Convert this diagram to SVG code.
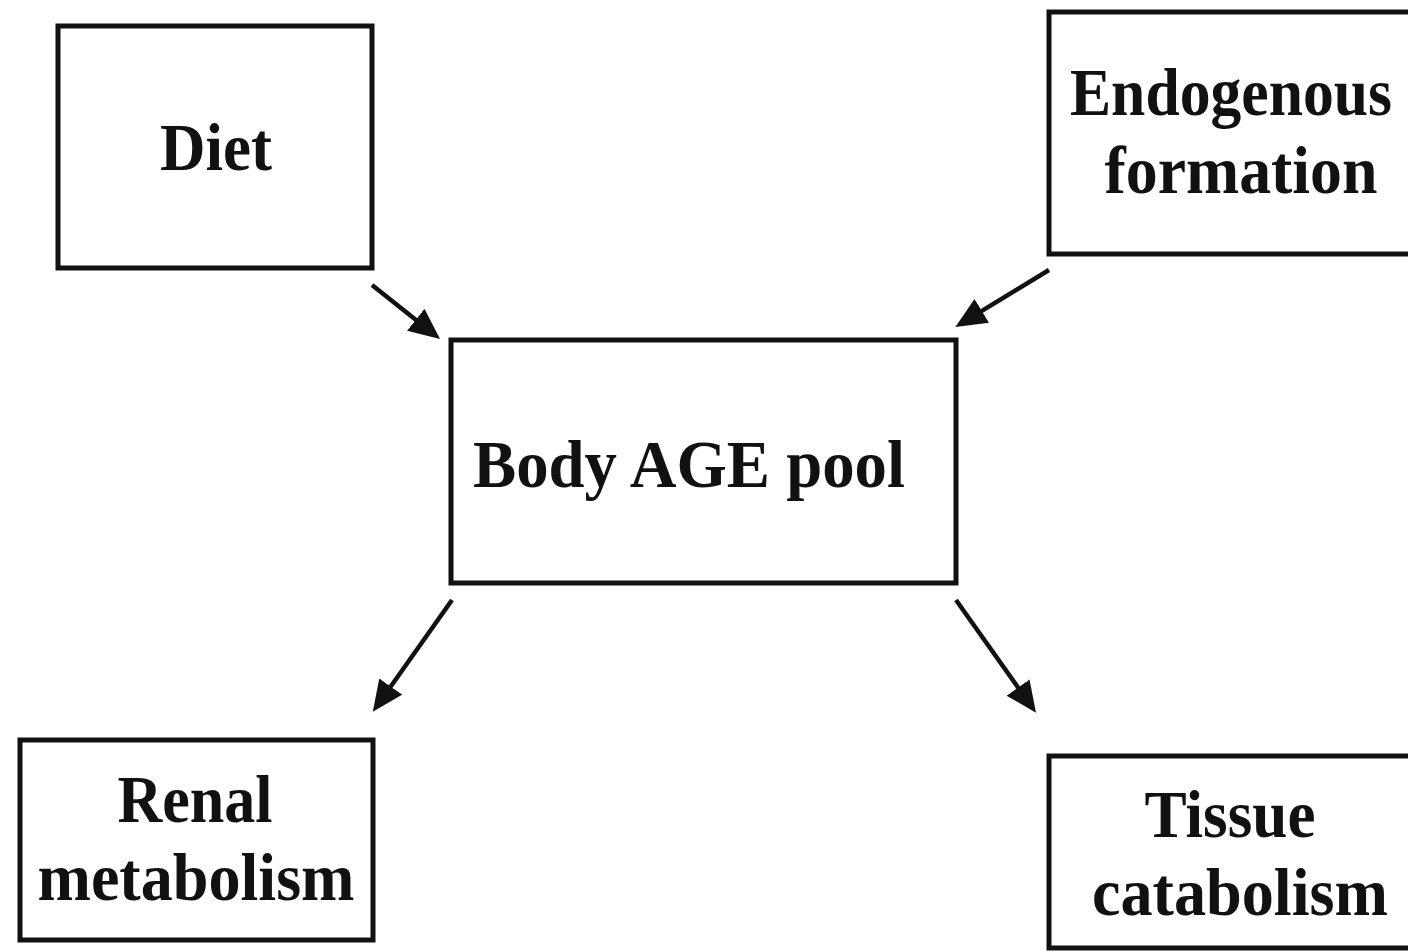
<svg xmlns="http://www.w3.org/2000/svg" width="1408" height="952" viewBox="0 0 1408 952">
<style>
.box{fill:#fff;stroke:#111;stroke-width:5}
.lbl{font-family:"Liberation Serif","Times New Roman",serif;font-weight:bold;font-size:68px;fill:#111;text-anchor:middle}
.conn{stroke:#111;stroke-width:4.5;fill:none;marker-end:url(#ah)}
</style>
<defs>
<marker id="ah" markerUnits="userSpaceOnUse" markerWidth="36" markerHeight="32" refX="22" refY="14" orient="auto">
<path d="M0,0 L31,14 L0,28 Z" fill="#111"/>
</marker>
</defs>
<rect width="1408" height="952" fill="#fff"/>
<g id="node-diet">
<rect class="box" x="58" y="26" width="314" height="242"/>
<text class="lbl" x="216" y="170" textLength="112" lengthAdjust="spacingAndGlyphs">Diet</text>
</g>
<g id="node-endogenous">
<rect class="box" x="1049" y="12" width="370" height="242"/>
<text class="lbl" x="1231" y="115" textLength="322" lengthAdjust="spacingAndGlyphs">Endogenous</text>
<text class="lbl" x="1241" y="193" textLength="273" lengthAdjust="spacingAndGlyphs">formation</text>
</g>
<g id="node-pool">
<rect class="box" x="451" y="340" width="505" height="243"/>
<text class="lbl" x="689" y="487" textLength="432" lengthAdjust="spacingAndGlyphs">Body AGE pool</text>
</g>
<g id="node-renal">
<rect class="box" x="20" y="740" width="353" height="200"/>
<text class="lbl" x="195" y="822" textLength="155" lengthAdjust="spacingAndGlyphs">Renal</text>
<text class="lbl" x="196" y="900" textLength="317" lengthAdjust="spacingAndGlyphs">metabolism</text>
</g>
<g id="node-tissue">
<rect class="box" x="1049" y="756" width="370" height="192"/>
<text class="lbl" x="1230" y="837" textLength="171" lengthAdjust="spacingAndGlyphs">Tissue</text>
<text class="lbl" x="1240" y="915" textLength="296" lengthAdjust="spacingAndGlyphs">catabolism</text>
</g>
<g id="connectors">
<line class="conn" x1="372" y1="285" x2="433" y2="333.5"/>
<line class="conn" x1="1049" y1="270" x2="963" y2="322.3"/>
<line class="conn" x1="452" y1="600" x2="378" y2="704.5"/>
<line class="conn" x1="956" y1="600" x2="1030.8" y2="705.5"/>
</g>
</svg>
